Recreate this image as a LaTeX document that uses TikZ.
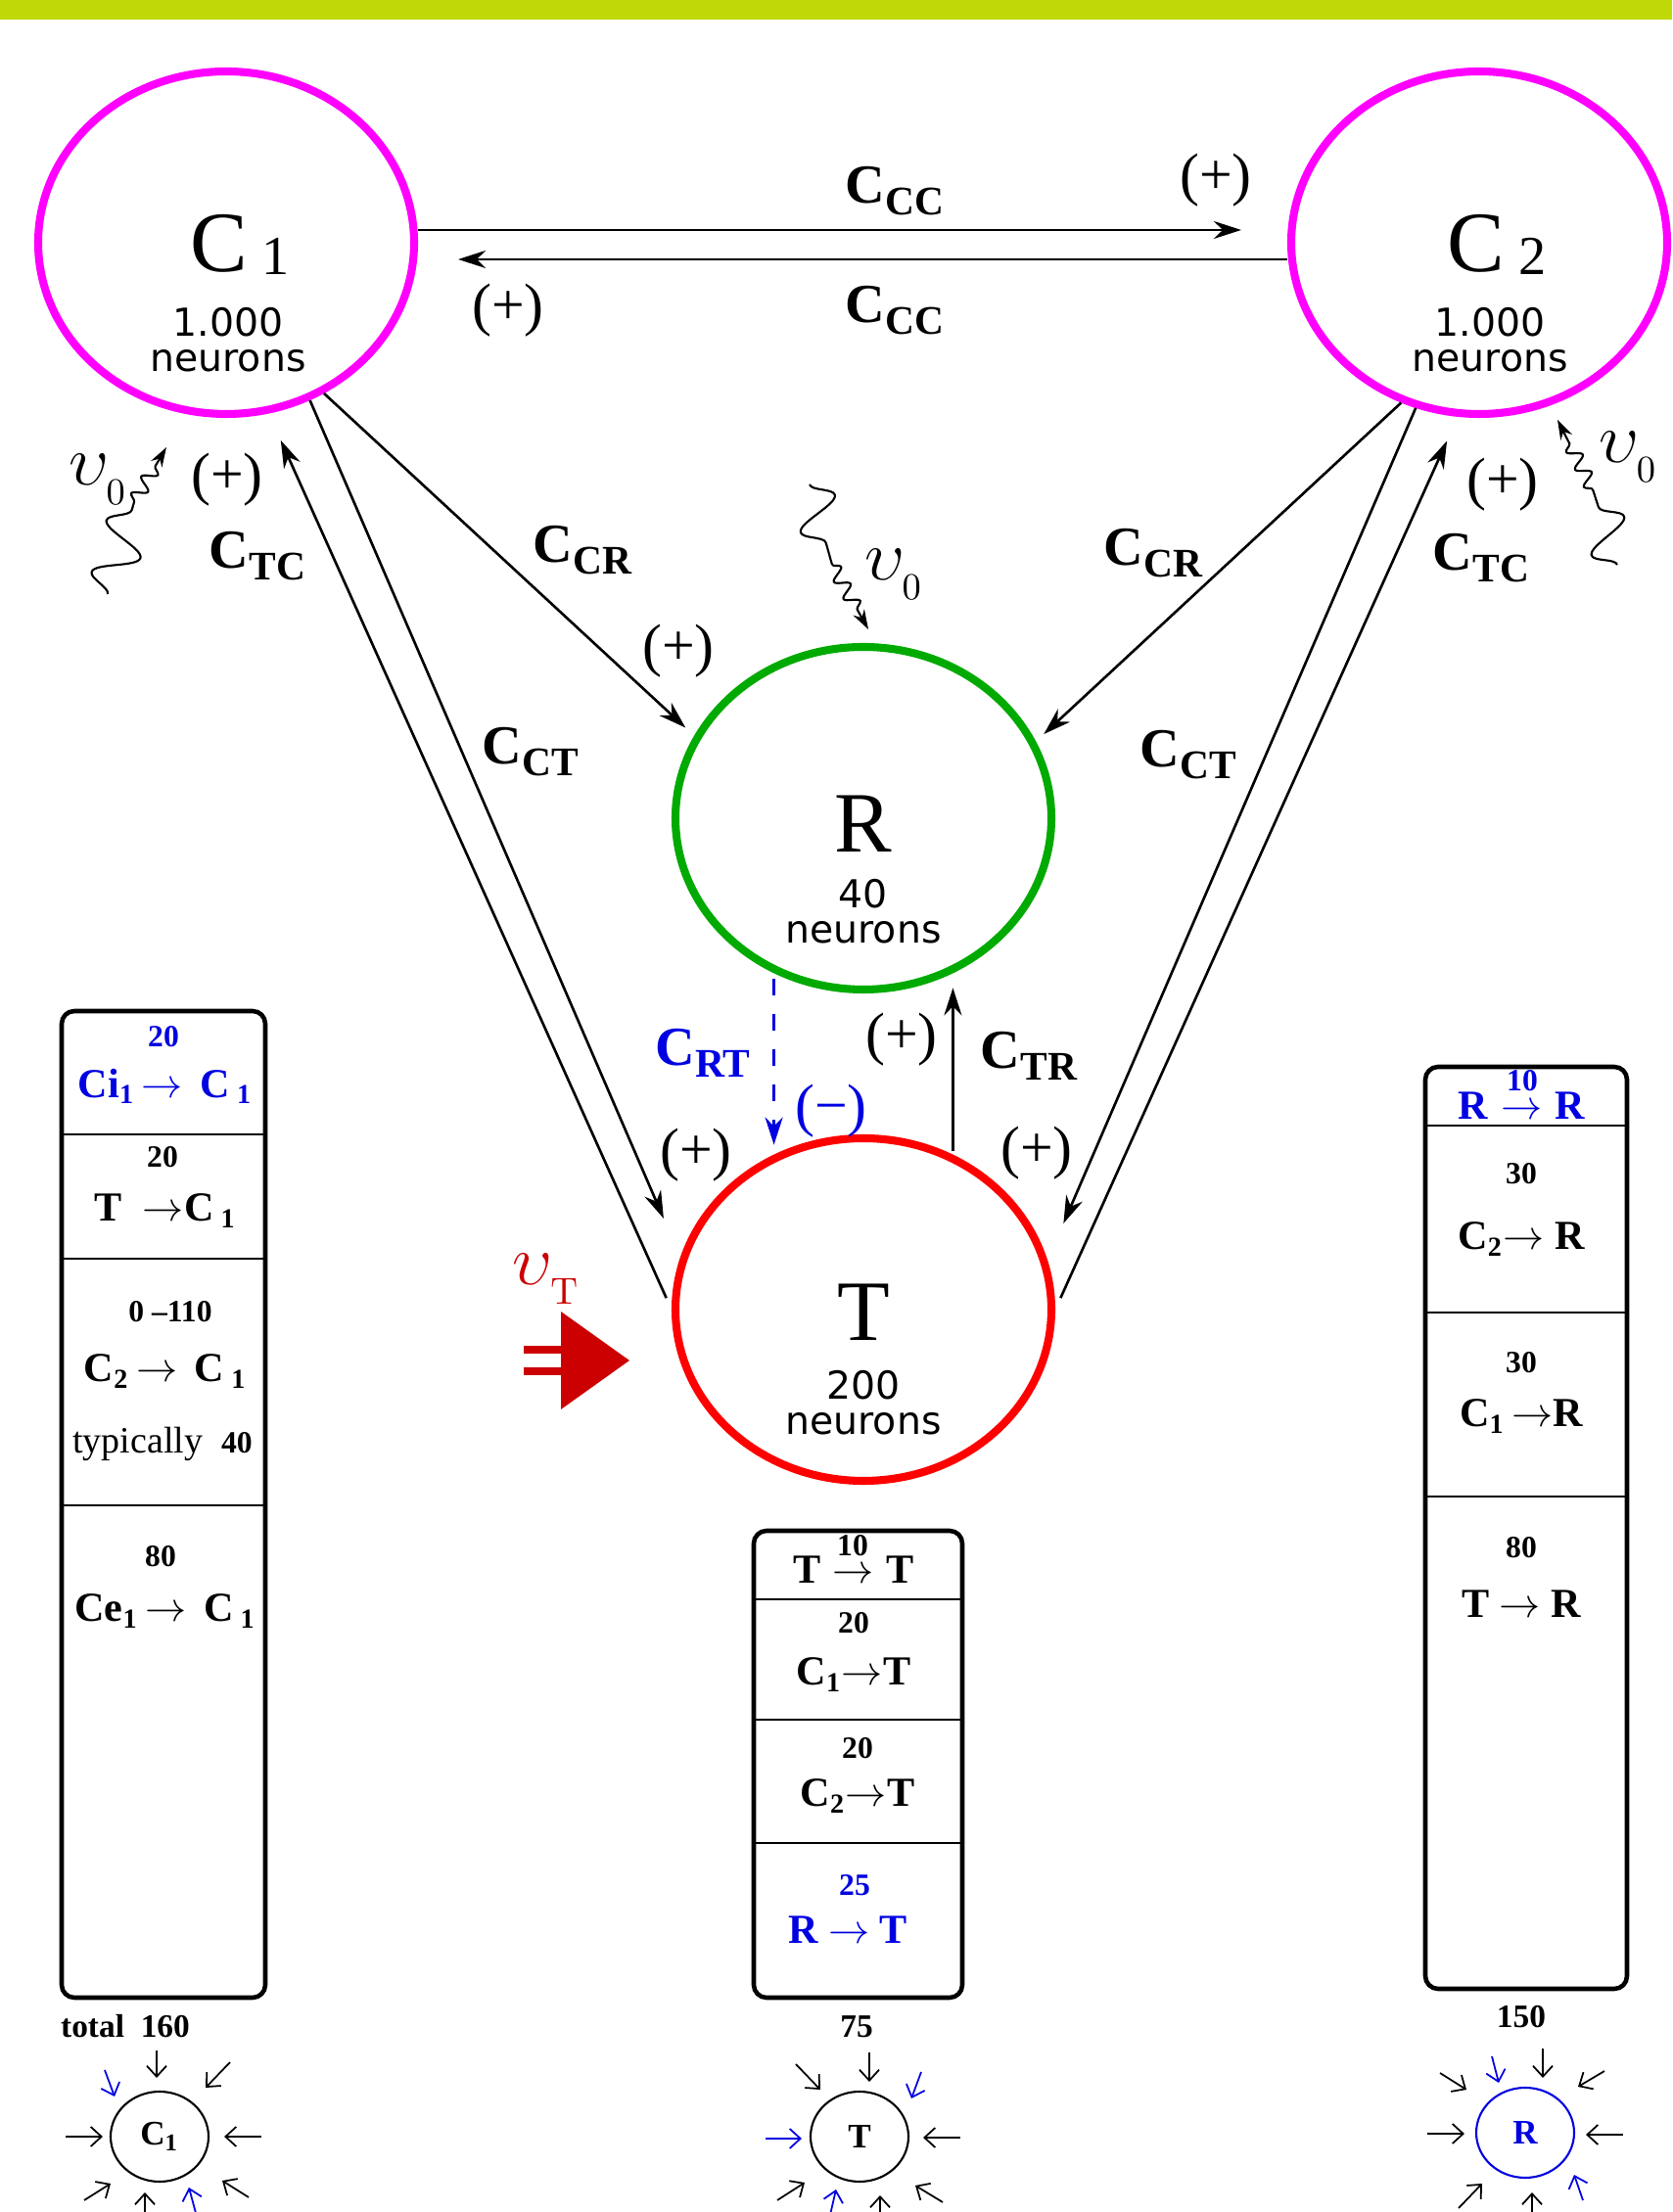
\documentclass[tikz,border=0pt]{standalone}
\usepackage[no-math]{fontspec}
\setmainfont{Liberation Serif}
\newfontfamily\popfont{DejaVu Sans}
\usetikzlibrary{arrows.meta,decorations.pathmorphing,shapes.geometric,positioning}

\definecolor{barlime}{RGB}{190,216,8}
\definecolor{popmag}{RGB}{255,0,255}
\definecolor{popgreen}{RGB}{0,170,0}
\definecolor{popred}{RGB}{255,0,0}
\definecolor{drivered}{RGB}{204,0,0}
\definecolor{inhblue}{RGB}{0,0,225}

\newcommand{\conlab}[1]{{\fontsize{16}{18}\selectfont\bfseries C}\raisebox{-3.3pt}{\fontsize{11.8}{13}\selectfont\bfseries #1}}
\newcommand{\ratelab}[1]{$\upsilon_{\raisebox{-2.5pt}{$\scriptscriptstyle #1$}}$}
\newcommand{\popsub}[1]{\raisebox{-1pt}{\fontsize{16}{18}\selectfont #1}}

\tikzstyle{pop} = [ellipse, minimum width=3.84cm, minimum height=3.5cm, line width=2.3pt, inner sep=0pt]
\tikzstyle{bigtag} = [font=\fontsize{25}{30}\selectfont, inner sep=0pt]
\tikzstyle{popnum} = [font=\popfont\fontsize{11.2}{10.3}\selectfont, align=center, inner sep=0pt]
\tikzstyle{conn} = [line width=0.75pt, -{Stealth[length=2.8mm,width=1.8mm]}]
\tikzstyle{signtag} = [font=\fontsize{17}{20}\selectfont, inner sep=0pt]
\tikzstyle{ratetag} = [font=\fontsize{21}{24}\selectfont, inner sep=0pt]
\tikzstyle{wave} = [line width=0.6pt, decorate, decoration={snake, amplitude=2.2mm, segment length=5.5mm}]
\tikzstyle{ripple} = [line width=0.6pt, decorate, -{Stealth[length=2mm,width=1.3mm]}, decoration={snake, amplitude=0.7mm, segment length=2mm, post length=2mm}]
\tikzstyle{tabbox} = [line width=1.3pt, rounded corners=0.13cm]
\tikzstyle{tabline} = [line width=0.8pt]
\tikzstyle{tabtxt} = [font=\fontsize{12}{14}\selectfont\bfseries, inner sep=0pt]
\tikzstyle{tabnum} = [font=\fontsize{9}{11}\selectfont\bfseries, inner sep=0pt]
\tikzstyle{mini} = [ellipse, draw, minimum width=1.0cm, minimum height=0.92cm, line width=0.6pt, inner sep=0pt, font=\fontsize{10}{12}\selectfont\bfseries]
\tikzstyle{feed} = [line width=0.5pt, {Straight Barb[length=1.1mm,width=2mm]}-]

\begin{document}
\begin{tikzpicture}
\useasboundingbox (0,0) rectangle (17.08,22.60);
\fill[barlime] (0,22.40) rectangle (17.08,22.60);

\node[pop, draw=popmag, xshift=2.31cm, yshift=20.12cm] (c1) {};
\node[pop, draw=popmag, xshift=15.11cm, yshift=20.12cm] (c2) {};
\node[pop, draw=popgreen, xshift=8.82cm, yshift=14.24cm] (r) {};
\node[pop, draw=popred, xshift=8.82cm, yshift=9.22cm] (t) {};

\node[bigtag] (c1tag) at ([xshift=0.14cm,yshift=-0.02cm]c1) {C\,\popsub{1}};
\node[popnum] (c1num) at ([xshift=0.02cm,yshift=-0.99cm]c1) {1.000\\neurons};
\node[bigtag] (c2tag) at ([xshift=0.18cm,yshift=-0.02cm]c2) {C\,\popsub{2}};
\node[popnum] (c2num) at ([xshift=0.11cm,yshift=-0.99cm]c2) {1.000\\neurons};
\node[bigtag] (rtag) at ([yshift=-0.06cm]r) {R};
\node[popnum] (rnum) at ([yshift=-0.95cm]r) {40\\neurons};
\node[bigtag] (ttag) at ([yshift=-0.03cm]t) {T};
\node[popnum] (tnum) at ([yshift=-0.95cm]t) {200\\neurons};

\draw[conn, shorten >=0.47cm] ([yshift=0.13cm]c1.east) -- ([yshift=0.13cm]c2.west);
\draw[conn, shorten >=0.41cm] ([yshift=-0.17cm]c2.west) -- ([yshift=-0.17cm]c1.east);
\draw[conn, shorten >=0.12cm] (c1.-57) -- (r.154);
\draw[conn, shorten >=0.11cm] (c2.-116) -- (r.24);
\draw[conn, shorten <=0.13cm, shorten >=0.3cm] (t.180) -- (c1.-76);
\draw[conn, shorten >=0.43cm] (c1.-62) -- (t.164);
\draw[conn, shorten >=0.41cm] (c2.-111) -- (t.15);
\draw[conn, shorten <=0.13cm, shorten >=0.27cm] (t.0) -- (c2.-97);
\draw[conn, inhblue, line width=1pt, dash pattern=on 0.17cm off 0.19cm, shorten <=0.06cm, shorten >=0.1cm] (r.240) -- (t.120);
\draw[conn, shorten <=0.04cm, shorten >=0.15cm] (t.60) -- (r.300);

\node[xshift=9.14cm,yshift=20.65cm] (lcc1) {\conlab{CC}};
\node[signtag,xshift=12.42cm,yshift=20.76cm] (pcc1) {(+)};
\node[xshift=9.14cm,yshift=19.43cm] (lcc2) {\conlab{CC}};
\node[signtag,xshift=5.19cm,yshift=19.43cm] (pcc2) {(+)};
\node[xshift=5.95cm,yshift=16.98cm] (lcr1) {\conlab{CR}};
\node[signtag,xshift=6.93cm,yshift=15.95cm] (pcr1) {(+)};
\node[xshift=11.78cm,yshift=16.95cm] (lcr2) {\conlab{CR}};
\node[xshift=2.63cm,yshift=16.92cm] (ltc1) {\conlab{TC}};
\node[signtag,xshift=2.32cm,yshift=17.70cm] (ptc1) {(+)};
\node[xshift=5.42cm,yshift=14.92cm] (lct1) {\conlab{CT}};
\node[signtag,xshift=7.11cm,yshift=10.80cm] (pct1) {(+)};
\node[xshift=12.14cm,yshift=14.89cm] (lct2) {\conlab{CT}};
\node[signtag,xshift=10.59cm,yshift=10.82cm] (pct2) {(+)};
\node[xshift=15.13cm,yshift=16.90cm] (ltc2) {\conlab{TC}};
\node[signtag,xshift=15.35cm,yshift=17.65cm] (ptc2) {(+)};
\node[text=inhblue,xshift=7.18cm,yshift=11.84cm] (lrt) {\conlab{RT}};
\node[signtag,text=inhblue,xshift=8.49cm,yshift=11.25cm] (prt) {(−)};
\node[signtag,xshift=9.21cm,yshift=11.98cm] (ptr) {(+)};
\node[xshift=10.51cm,yshift=11.81cm] (ltr) {\conlab{TR}};

\coordinate (c1wa) at (1.10,16.53);
\coordinate (c1wb) at (1.37,17.47);
\coordinate (c1wc) at (1.70,18.03);
\draw[wave] (c1wa) -- (c1wb);
\draw[ripple] (c1wb) -- (c1wc);
\node[ratetag,xshift=1.00cm,yshift=17.70cm] (c1rate) {\ratelab{0}};
\coordinate (rwa) at (8.27,17.65);
\coordinate (rwb) at (8.50,16.83);
\coordinate (rwc) at (8.87,16.17);
\draw[wave] (rwa) -- (rwb);
\draw[ripple] (rwb) -- (rwc);
\node[ratetag,xshift=9.13cm,yshift=16.73cm] (rrate) {\ratelab{0}};
\coordinate (c2wa) at (16.52,16.83);
\coordinate (c2wb) at (16.27,17.60);
\coordinate (c2wc) at (15.91,18.31);
\draw[wave] (c2wa) -- (c2wb);
\draw[ripple] (c2wb) -- (c2wc);
\node[ratetag,xshift=16.63cm,yshift=17.93cm] (c2rate) {\ratelab{0}};

\node[ratetag,text=drivered,xshift=5.58cm,yshift=9.53cm] (trate) {\ratelab{\mathrm{T}}};
\fill[drivered] (5.73,9.20) -- (6.43,8.70) -- (5.73,8.20) -- cycle;
\fill[drivered] (5.35,8.77) rectangle (5.78,8.85);
\fill[drivered] (5.35,8.55) rectangle (5.78,8.63);

\draw[tabbox] (0.63,2.19) rectangle (2.71,12.27);
\draw[tabline] (0.63,11.01) -- (2.71,11.01);
\draw[tabline] (0.63,9.74) -- (2.71,9.74);
\draw[tabline] (0.63,7.22) -- (2.71,7.22);
\node[tabnum,text=inhblue,xshift=1.67cm,yshift=12.01cm] (c1in1) {20};
\node[tabtxt,text=inhblue,xshift=1.69cm,yshift=11.50cm] (c1in2) {Ci\textsubscript{1}\,$\rightarrow$\, C\,\textsubscript{1}};
\node[tabnum,xshift=1.66cm,yshift=10.78cm] (c1th1) {20};
\node[tabtxt,xshift=1.69cm,yshift=10.23cm] (c1th2) {T\ \ $\rightarrow$C\,\textsubscript{1}};
\node[tabnum,xshift=1.74cm,yshift=9.20cm] (c1cc1) {0 –110};
\node[tabtxt,xshift=1.69cm,yshift=8.59cm] (c1cc2) {C\textsubscript{2}\,$\rightarrow$\, C\,\textsubscript{1}};
\node[inner sep=0pt,xshift=1.66cm,yshift=7.85cm] (c1cc3) {\fontsize{10.8}{13}\selectfont typically\ \ \fontsize{9}{11}\selectfont\bfseries 40};
\node[tabnum,xshift=1.64cm,yshift=6.70cm] (c1ex1) {80};
\node[tabtxt,xshift=1.69cm,yshift=6.14cm] (c1ex2) {Ce\textsubscript{1}\,$\rightarrow$\, C\,\textsubscript{1}};
\node[tabnum,font=\fontsize{9.5}{11}\selectfont\bfseries,xshift=1.28cm,yshift=1.90cm] (c1sum) {total\ \ 160};

\draw[tabbox] (7.70,2.19) rectangle (9.83,6.96);
\draw[tabline] (7.70,6.26) -- (9.83,6.26);
\draw[tabline] (7.70,5.03) -- (9.83,5.03);
\draw[tabline] (7.70,3.77) -- (9.83,3.77);
\node[tabtxt,anchor=base,xshift=8.72cm,yshift=6.42cm] (tself) {$\rightarrow$};
\node[tabtxt,anchor=base,xshift=8.25cm,yshift=6.42cm] (tselfa) {T};
\node[tabtxt,anchor=base,xshift=9.20cm,yshift=6.42cm] (tselfb) {T};
\node[tabnum,xshift=8.71cm,yshift=6.81cm] (tselfn) {10};
\node[tabnum,xshift=8.72cm,yshift=6.02cm] (tc11) {20};
\node[tabtxt,xshift=8.72cm,yshift=5.49cm] (tc12) {C\textsubscript{1}$\rightarrow$T};
\node[tabnum,xshift=8.76cm,yshift=4.74cm] (tc21) {20};
\node[tabtxt,xshift=8.76cm,yshift=4.25cm] (tc22) {C\textsubscript{2}$\rightarrow$T};
\node[tabnum,text=inhblue,xshift=8.73cm,yshift=3.34cm] (trt1) {25};
\node[tabtxt,text=inhblue,xshift=8.66cm,yshift=2.88cm] (trt2) {R $\rightarrow$ T};
\node[tabnum,font=\fontsize{9.5}{11}\selectfont\bfseries,xshift=8.75cm,yshift=1.89cm] (tsum) {75};

\draw[tabbox] (14.56,2.28) rectangle (16.62,11.70);
\draw[tabline] (14.56,11.10) -- (16.62,11.10);
\draw[tabline] (14.56,9.19) -- (16.62,9.19);
\draw[tabline] (14.56,7.31) -- (16.62,7.31);
\node[tabtxt,text=inhblue,anchor=base,xshift=15.55cm,yshift=11.16cm] (rself) {$\rightarrow$};
\node[tabtxt,text=inhblue,anchor=base,xshift=15.05cm,yshift=11.16cm] (rselfa) {R};
\node[tabtxt,text=inhblue,anchor=base,xshift=16.04cm,yshift=11.16cm] (rselfb) {R};
\node[tabnum,text=inhblue,xshift=15.55cm,yshift=11.56cm] (rselfn) {10};
\node[tabnum,xshift=15.54cm,yshift=10.61cm] (rc21) {30};
\node[tabtxt,xshift=15.54cm,yshift=9.94cm] (rc22) {C\textsubscript{2}$\rightarrow$ R};
\node[tabnum,xshift=15.54cm,yshift=8.68cm] (rc11) {30};
\node[tabtxt,xshift=15.54cm,yshift=8.13cm] (rc12) {C\textsubscript{1}\,$\rightarrow$R};
\node[tabnum,xshift=15.54cm,yshift=6.79cm] (rtr1) {80};
\node[tabtxt,xshift=15.54cm,yshift=6.21cm] (rtr2) {T $\rightarrow$ R};
\node[tabnum,font=\fontsize{9.5}{11}\selectfont\bfseries,xshift=15.54cm,yshift=1.99cm] (rsum) {150};

\node[mini, xshift=1.63cm, yshift=0.77cm] (c1s) {C\textsubscript{1}};
\draw[feed] ([shift={(-0.03,0.60)}]c1s.center) -- ++(0,0.28);
\draw[feed] ([shift={(0.47,0.50)}]c1s.center) -- ++(0.25,0.26);
\draw[feed] ([shift={(0.66,0)}]c1s.center) -- ++(0.38,0);
\draw[feed] ([shift={(0.64,-0.45)}]c1s.center) -- ++(0.27,-0.17);
\draw[feed] ([shift={(-0.15,-0.57)}]c1s.center) -- ++(0,-0.25);
\draw[feed] ([shift={(-0.50,-0.48)}]c1s.center) -- ++(-0.27,-0.17);
\draw[feed] ([shift={(-0.58,0)}]c1s.center) -- ++(-0.38,0);
\draw[feed, inhblue] ([shift={(-0.46,0.41)}]c1s.center) -- ++(-0.10,0.27);
\draw[feed, inhblue] ([shift={(0.30,-0.52)}]c1s.center) -- ++(0.07,-0.26);

\node[mini, xshift=8.78cm, yshift=0.77cm] (ts) {T};
\draw[feed] ([shift={(-0.40,0.48)}]ts.center) -- ++(-0.25,0.26);
\draw[feed] ([shift={(0.10,0.56)}]ts.center) -- ++(0,0.30);
\draw[feed, inhblue] ([shift={(0.53,0.39)}]ts.center) -- ++(0.10,0.27);
\draw[feed] ([shift={(0.65,-0.01)}]ts.center) -- ++(0.38,0);
\draw[feed] ([shift={(0.57,-0.50)}]ts.center) -- ++(0.28,-0.17);
\draw[feed] ([shift={(0.21,-0.60)}]ts.center) -- ++(0,-0.25);
\draw[feed, inhblue] ([shift={(-0.24,-0.54)}]ts.center) -- ++(-0.06,-0.26);
\draw[feed] ([shift={(-0.56,-0.47)}]ts.center) -- ++(-0.28,-0.18);
\draw[feed, inhblue] ([shift={(-0.59,-0.02)}]ts.center) -- ++(-0.37,0);

\node[mini, draw=inhblue, text=inhblue, xshift=15.58cm, yshift=0.81cm] (rs) {R};
\draw[feed] ([shift={(-0.60,0.44)}]rs.center) -- ++(-0.27,0.17);
\draw[feed, inhblue] ([shift={(-0.27,0.51)}]rs.center) -- ++(-0.07,0.27);
\draw[feed] ([shift={(0.18,0.56)}]rs.center) -- ++(0,0.30);
\draw[feed] ([shift={(0.54,0.47)}]rs.center) -- ++(0.27,0.16);
\draw[feed] ([shift={(0.62,-0.02)}]rs.center) -- ++(0.38,0);
\draw[feed, inhblue] ([shift={(0.50,-0.43)}]rs.center) -- ++(0.09,-0.26);
\draw[feed] ([shift={(0.07,-0.61)}]rs.center) -- ++(0,-0.25);
\draw[feed] ([shift={(-0.44,-0.52)}]rs.center) -- ++(-0.24,-0.25);
\draw[feed] ([shift={(-0.62,-0.01)}]rs.center) -- ++(-0.38,0);
\end{tikzpicture}
\end{document}
